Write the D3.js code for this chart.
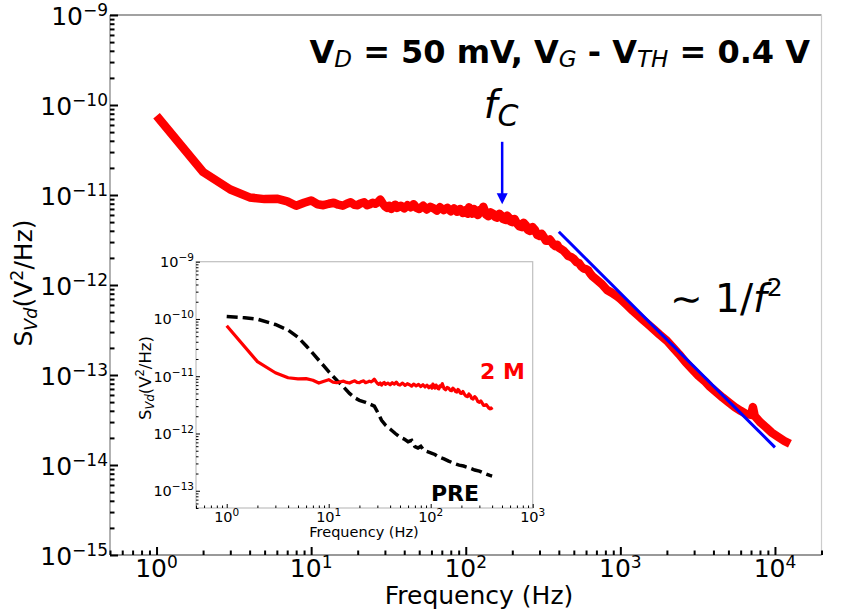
<!DOCTYPE html>
<html><head><meta charset="utf-8">
<script src="https://cdn.jsdelivr.net/npm/d3@7"></script>
<style>body{margin:0;background:#fff} svg{display:block;font-family:"DejaVu Sans",sans-serif}</style>
</head><body><svg id="c" width="849" height="615"></svg>
<script>
// ---- data : [frequency (Hz), S_Vd (V^2/Hz)] ----
const series2M = [
 [1,7.6e-11],[2,1.8e-11],[3,1.15e-11],[4,9.4e-12],[5,9.0e-12],[6,9.1e-12],[7,8.5e-12],[8,7.6e-12],[9,8.2e-12],[10,8.7e-12],
 [11,7.9e-12],[12,7.7e-12],[13,8.0e-12],[14,8.2e-12],[15,7.8e-12],[16,7.6e-12],[17,8.0e-12],[18,8.3e-12],[19,7.8e-12],[20,7.7e-12],
 [21,8.1e-12],[22,8.3e-12],[23,7.7e-12],[24,7.9e-12],[25,8.2e-12],[26,8.0e-12],[27,8.3e-12],[28,8.9e-12],[29,8.1e-12],[30,7.5e-12],
 [31,7.2e-12],[32,7.6e-12],[33,7.0e-12],[34,7.5e-12],[35,7.8e-12],[36,7.2e-12],[38,7.6e-12],[40,7.1e-12],[42,7.7e-12],[44,7.3e-12],
 [46,7.9e-12],[48,7.2e-12],[50,7.0e-12],[53,7.6e-12],[56,6.9e-12],[59,7.4e-12],[62,7.1e-12],[65,6.7e-12],[68,7.3e-12],[72,6.8e-12],
 [76,7.2e-12],[80,6.6e-12],[84,7.1e-12],[88,6.5e-12],[92,7.0e-12],[96,6.3e-12],[100,6.8e-12],[103,6.2e-12],[105,7.3e-12],[108,6.6e-12],
 [110,6.2e-12],[113,7.0e-12],[115,6.7e-12],[118,6.1e-12],[120,6.0e-12],[123,6.8e-12],[125,6.5e-12],[130,7.4e-12],[133,6.6e-12],[135,6.1e-12],
 [140,5.8e-12],[145,6.4e-12],[150,6.2e-12],[155,5.7e-12],[160,5.6e-12],[165,6.2e-12],[170,5.9e-12],[175,5.4e-12],[180,5.3e-12],[185,5.9e-12],
 [190,5.6e-12],[195,5.1e-12],[200,5.0e-12],[207,5.4e-12],[215,4.8e-12],[222,4.5e-12],[230,4.4e-12],[237,4.9e-12],[245,4.6e-12],[252,4.1e-12],
 [260,4.0e-12],[270,4.4e-12],[280,4.1e-12],[290,3.6e-12],[300,3.5e-12],[310,3.7e-12],[320,3.4e-12],[330,3.1e-12],[340,3.1e-12],[350,3.2e-12],
 [360,3.0e-12],[370,2.8e-12],[380,2.7e-12],[390,2.8e-12],[400,2.6e-12],[430,2.4e-12],[445,2.25e-12],[460,2.1e-12],[480,2.05e-12],[500,1.95e-12],
 [520,1.8e-12],[540,1.75e-12],[560,1.6e-12],[580,1.52e-12],[600,1.5e-12],[620,1.45e-12],[640,1.33e-12],[660,1.25e-12],[700,1.15e-12],[760,1.02e-12],
 [820,8.8e-13],[880,8.2e-13],[950,7.5e-13],[1000,7.0e-13],[1100,6.0e-13],[1200,5.2e-13],[1300,4.6e-13],[1400,4.1e-13],[1500,3.7e-13],[1650,3.2e-13],
 [1800,2.8e-13],[2000,2.4e-13],[2200,2.0e-13],[2400,1.7e-13],[2650,1.38e-13],[2900,1.17e-13],[3200,9.8e-14],[3500,8.6e-14],[3800,7.4e-14],[4200,6.4e-14],
 [4600,5.6e-14],[5000,5.0e-14],[5500,4.4e-14],[6000,4.0e-14],[6500,3.7e-14],[7000,3.6e-14],[7200,4.4e-14],[7400,3.5e-14],[8000,3.0e-14],[8800,2.6e-14],
 [9500,2.3e-14],[10500,2.05e-14],[11500,1.85e-14],[12500,1.72e-14]
];
const seriesPRE = [
 [1,1.1e-10],[1.5,1.05e-10],[2,9.9e-11],[3,8.0e-11],[4,6.4e-11],[5,4.8e-11],[6,3.4e-11],[7,2.5e-11],[8,1.9e-11],[9,1.5e-11],
 [10,1.2e-11],[12,8.5e-12],[14,6.5e-12],[16,5.0e-12],[18,4.2e-12],[20,3.8e-12],[23,3.5e-12],[26,3.2e-12],[28,3.0e-12],[30,2.4e-12],
 [33,1.7e-12],[36,1.4e-12],[40,1.2e-12],[45,1.0e-12],[50,8.6e-13],[55,8.0e-13],[60,7.2e-13],[65,7.6e-13],[70,5.9e-13],[75,5.6e-13],
 [80,6.0e-13],[85,5.2e-13],[90,4.9e-13],[100,4.6e-13],[110,4.3e-13],[120,3.9e-13],[135,3.6e-13],[150,3.3e-13],[170,3.0e-13],[190,2.8e-13],
 [210,2.7e-13],[240,2.5e-13],[270,2.3e-13],[300,2.2e-13],[340,2.0e-13],[380,1.85e-13],[400,1.8e-13]
];
const insetMaxFreq = 400;
const fitFreq = [400, 10000];
const fitPSD = [3.9e-12, 1.57e-14];
const fcFreq = 172;
const fcArrowPSD = [3.9e-11, 7.9e-12];
const mainXDomain = [0.5, 2e4], mainYDomain = [1e-15, 1e-9];
const insetXDomain = [0.5, 1e3], insetYDomain = [5e-14, 1e-9];
const mainXMajor = [1,10,100,1000,10000];
const mainYMajor = [1e-15,1e-14,1e-13,1e-12,1e-11,1e-10,1e-9];
const insetXMajor = [1,10,100,1000];
const insetYMajor = [1e-13,1e-12,1e-11,1e-10,1e-9];

// ---- drawing ----
const svg = d3.select("#c");
const M = {l:110, r:821.5, t:15, b:555};
const I = {l:196, r:532.7, t:261.7, b:508};
const x = d3.scaleLog().domain(mainXDomain).range([M.l, M.r]);
const y = d3.scaleLog().domain(mainYDomain).range([M.b, M.t]);
const xi = d3.scaleLog().domain(insetXDomain).range([I.l, I.r]);
const yi = d3.scaleLog().domain(insetYDomain).range([I.b, I.t]);
const isMajor = v => Math.abs(Math.log10(v) - Math.round(Math.log10(v))) < 1e-9;
const expOf = v => { const e = Math.round(Math.log10(v)); return e < 0 ? "\u2212" + (-e) : String(e); };

function axes(g, xs, ys, box, xMaj, yMaj, o) {
  const minX = xs.ticks().filter(v => !isMajor(v));
  const minY = ys.ticks().filter(v => !isMajor(v));
  const gx = g.append("g").attr("transform", `translate(0,${box.b})`);
  gx.append("g").call(d3.axisBottom(xs).tickValues(minX).tickSize(-o.minLen).tickFormat(""));
  gx.append("g").call(d3.axisBottom(xs).tickValues(xMaj).tickSize(-o.majLen).tickFormat(""));
  const gy = g.append("g").attr("transform", `translate(${box.l},0)`);
  gy.append("g").call(d3.axisLeft(ys).tickValues(minY).tickSize(-o.minLen).tickFormat(""));
  gy.append("g").call(d3.axisLeft(ys).tickValues(yMaj).tickSize(-o.majLen).tickFormat(""));
  g.selectAll(".domain").remove();
  g.selectAll(".tick line").attr("stroke", "#000").attr("stroke-width", o.tw);
  xMaj.forEach(v => {
    const t = g.append("text").attr("x", xs(v)).attr("y", box.b + o.xlab).attr("text-anchor", "middle")
      .attr("font-size", o.fs).attr("fill", "#000");
    t.append("tspan").text("10");
    t.append("tspan").attr("font-size", o.efs).attr("dy", -o.esh).text(expOf(v));
  });
  yMaj.forEach(v => {
    const t = g.append("text").attr("x", box.l - o.ypad).attr("y", ys(v) + o.ylab).attr("text-anchor", "end")
      .attr("font-size", o.fs).attr("fill", "#000");
    t.append("tspan").text("10");
    t.append("tspan").attr("font-size", o.efs).attr("dy", -o.esh).text(expOf(v));
  });
}

function ylabel(g, cx, cy, fs) {
  const t = g.append("text").attr("transform", `translate(${cx},${cy}) rotate(-90)`)
    .attr("text-anchor", "middle").attr("font-size", fs).attr("fill", "#000");
  t.append("tspan").text("S");
  t.append("tspan").attr("font-size", fs*0.7).attr("font-style", "italic").attr("dy", fs*0.2).text("Vd");
  t.append("tspan").attr("dy", -fs*0.2).text("(V");
  t.append("tspan").attr("font-size", fs*0.7).attr("dy", -fs*0.38).text("2");
  t.append("tspan").attr("dy", fs*0.38).text("/Hz)");
}

// main spines
svg.append("line").attr("x1", M.l).attr("x2", M.r).attr("y1", M.t).attr("y2", M.t).attr("stroke", "#444").attr("stroke-width", 1.2);
svg.append("line").attr("x1", M.r).attr("x2", M.r).attr("y1", M.t).attr("y2", M.b).attr("stroke", "#ccc").attr("stroke-width", 1.2);
svg.append("line").attr("x1", M.l).attr("x2", M.l).attr("y1", M.t).attr("y2", M.b).attr("stroke", "#999").attr("stroke-width", 1.5);
svg.append("line").attr("x1", M.l).attr("x2", M.r).attr("y1", M.b).attr("y2", M.b).attr("stroke", "#777").attr("stroke-width", 1.5);

const gMain = svg.append("g");
axes(gMain, x, y, M, mainXMajor, mainYMajor, {minLen:4.5, majLen:8, tw:2, fs:25, efs:17, esh:9, xlab:22, ylab:10, ypad:2});

svg.append("text").attr("x", 479).attr("y", 604).attr("text-anchor", "middle").attr("font-size", 25).attr("fill", "#000").text("Frequency (Hz)");
ylabel(svg, 32, 283, 25);

const line = (xs, ys) => d3.line().x(d => xs(d[0])).y(d => ys(d[1]));
svg.append("path").datum(series2M).attr("d", line(x, y)).attr("fill", "none")
  .attr("stroke", "#ff0000").attr("stroke-width", 8.5).attr("stroke-linejoin", "round");

svg.append("path").datum(fitFreq.map((f, i) => [f, fitPSD[i]])).attr("d", line(x, y))
  .attr("fill", "none").attr("stroke", "#0000ff").attr("stroke-width", 3);

const ax = x(fcFreq), ay0 = y(fcArrowPSD[0]), ay1 = y(fcArrowPSD[1]);
svg.append("line").attr("x1", ax).attr("x2", ax).attr("y1", ay0).attr("y2", ay1 - 9).attr("stroke", "#0000ff").attr("stroke-width", 2.5);
svg.append("path").attr("d", `M${ax-5.5},${ay1-11} L${ax+5.5},${ay1-11} L${ax},${ay1} Z`).attr("fill", "#0000ff");
const fc = svg.append("text").attr("x", 501).attr("y", 118).attr("text-anchor", "middle").attr("fill", "#000");
fc.append("tspan").attr("font-size", 39).attr("font-style", "italic").text("f");
fc.append("tspan").attr("font-size", 30).attr("font-style", "italic").attr("dy", 8).text("C");

const tt = svg.append("text").attr("x", 810).attr("y", 63).attr("text-anchor", "end").attr("font-size", 32).attr("font-weight", "bold").attr("fill", "#000");
const sub = (t, s) => { t.append("tspan").attr("font-size", 23).attr("font-weight", "normal").attr("font-style", "italic").attr("dy", 4).text(s); };
tt.append("tspan").text("V"); sub(tt, "D");
tt.append("tspan").attr("dy", -4).text(" = 50 mV, V"); sub(tt, "G");
tt.append("tspan").attr("dy", -4).text(" - V"); sub(tt, "TH");
tt.append("tspan").attr("dy", -4).text(" = 0.4 V");

const sl = svg.append("text").attr("x", 670).attr("y", 311.5).attr("font-size", 39).attr("fill", "#000");
sl.append("tspan").text("\u223C 1/");
sl.append("tspan").attr("font-style", "italic").text("f");
sl.append("tspan").attr("font-size", 25).attr("dy", -16).text("2");

// ---- inset ----
const gIn = svg.append("g");
gIn.append("rect").attr("x", I.l).attr("y", I.t).attr("width", I.r - I.l).attr("height", I.b - I.t)
  .attr("fill", "#fff").attr("stroke", "#bfbfbf").attr("stroke-width", 1.2);
axes(gIn, xi, yi, I, insetXMajor, insetYMajor, {minLen:2.5, majLen:4, tw:1, fs:14.5, efs:10.5, esh:6, xlab:13.5, ylab:5.5, ypad:2});
gIn.append("text").attr("x", 364).attr("y", 537).attr("text-anchor", "middle").attr("font-size", 14.5).attr("fill", "#000").text("Frequency (Hz)");
ylabel(gIn, 150.5, 378, 16.5);

gIn.append("path").datum(seriesPRE).attr("d", line(xi, yi))
  .attr("fill", "none").attr("stroke", "#000").attr("stroke-width", 3.5).attr("stroke-dasharray", "11,5");
gIn.append("path").datum(series2M.filter(d => d[0] <= insetMaxFreq)).attr("d", line(xi, yi))
  .attr("fill", "none").attr("stroke", "#ff0000").attr("stroke-width", 3.2).attr("stroke-linejoin", "round");
gIn.append("text").attr("x", 480).attr("y", 379).attr("font-size", 22).attr("font-weight", "bold").attr("fill", "#ff0000").text("2 M");
gIn.append("text").attr("x", 431).attr("y", 500.5).attr("font-size", 22).attr("font-weight", "bold").attr("fill", "#000").text("PRE");
</script></body></html>
